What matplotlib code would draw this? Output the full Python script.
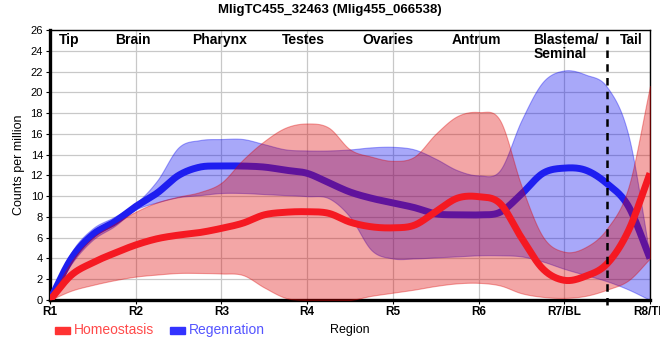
import numpy as np
import matplotlib
matplotlib.use('Agg')
import matplotlib.pyplot as plt
from matplotlib.patches import Rectangle

plt.rcParams['font.family'] = ['Liberation Sans', 'DejaVu Sans']

# Region ticks and body part labels
tick_labels = ['R1', 'R2', 'R3', 'R4', 'R5', 'R6', 'R7/BL', 'R8/TL']
part_labels = ['Tip', 'Brain', 'Pharynx', 'Testes', 'Ovaries', 'Antrum', 'Blastema/\nSeminal', 'Tail']
part_pos = [0.22, 0.97, 1.98, 2.96, 3.94, 4.98, 6.02, 6.78]

# positions along the body (R1 = 0 ... R8 = 7), sampled every quarter region
pos = np.arange(29) * 0.25

homeo_mean = [0, 2.4, 3.6, 4.5, 5.3, 5.9, 6.25, 6.5, 6.9, 7.4, 8.2, 8.45, 8.5, 8.35, 7.5, 7.05,
              6.95, 7.2, 8.5, 9.8, 9.95, 9.3, 6.0, 3.0, 1.9, 2.3, 3.5, 6.7, 12.2]
homeo_upper = [0, 3.7, 6.0, 7.3, 8.5, 9.4, 9.95, 10.4, 11.3, 13.5, 15.3, 16.6, 17.0, 16.6, 14.5, 13.8,
               13.4, 13.8, 16.0, 17.7, 18.1, 17.3, 11.0, 6.1, 4.65, 5.1, 6.9, 10.9, 20.6]
homeo_lower = [0, 0.9, 1.45, 1.9, 2.25, 2.45, 2.6, 2.6, 2.55, 2.4, 1.2, 0.2, 0, 0, 0, 0.4,
               0.7, 1.0, 1.35, 1.6, 1.65, 1.4, 0.65, 0.3, 0.2, 0.4, 1.0, 1.9, 4.0]

regen_mean = [0, 4.0, 6.3, 7.5, 9.0, 10.3, 12.0, 12.8, 12.9, 12.9, 12.8, 12.5, 12.2, 11.3, 10.4, 9.8,
              9.35, 8.9, 8.3, 8.2, 8.2, 8.45, 10.2, 12.2, 12.7, 12.5, 11.2, 9.0, 4.0]
regen_upper = [0, 4.6, 6.9, 8.0, 9.3, 11.5, 14.7, 15.4, 15.5, 15.5, 15.0, 14.5, 14.4, 14.4, 14.5, 14.7,
               14.75, 14.5, 13.6, 12.5, 12.0, 12.5, 17.3, 21.0, 22.1, 21.7, 20.5, 15.8, 4.2]
regen_lower = [0, 3.5, 5.8, 7.1, 8.7, 9.4, 9.9, 10.1, 10.3, 10.3, 10.2, 10.1, 10.0, 9.8, 8.0, 4.8,
               4.0, 4.0, 4.1, 4.2, 4.3, 4.3, 4.2, 3.7, 3.0, 2.4, 1.8, 1.0, 0]


def smooth(x, y, n=700):
    # cubic Hermite curve through the points, tangents from neighbours (Catmull-Rom)
    x = np.asarray(x, float)
    y = np.asarray(y, float)
    h = np.diff(x)
    m = np.gradient(y, x)
    xs = np.linspace(x[0], x[-1], n)
    k = np.clip(np.searchsorted(x, xs) - 1, 0, len(x) - 2)
    t = (xs - x[k]) / h[k]
    h00 = 2 * t**3 - 3 * t**2 + 1
    h10 = t**3 - 2 * t**2 + t
    h01 = -2 * t**3 + 3 * t**2
    h11 = t**3 - t**2
    ys = h00 * y[k] + h10 * h[k] * m[k] + h01 * y[k + 1] + h11 * h[k] * m[k + 1]
    return xs, np.clip(ys, 0, None)


fig = plt.figure(figsize=(6.6, 3.6), dpi=100)
ax = fig.add_axes([50 / 660, 60 / 360, 600 / 660, 270 / 360])

red = '#dd0000'
blue = '#0000f0'

xs, bu = smooth(pos, regen_upper)
_, bl = smooth(pos, regen_lower)
_, bm = smooth(pos, regen_mean)
_, hu = smooth(pos, homeo_upper)
_, hl = smooth(pos, homeo_lower)
_, hm = smooth(pos, homeo_mean)

ax.fill_between(xs, bl, bu, color=blue, alpha=0.34, lw=0.8, zorder=2)
ax.plot(xs, bm, color='#1e1ef0', lw=5, solid_capstyle='butt', zorder=3)
ax.fill_between(xs, hl, hu, color=red, alpha=0.35, lw=0.8, zorder=4)
ax.plot(xs, hm, color='#f51922', lw=5, solid_capstyle='butt', zorder=5)

ax.axvline(6.5, ymin=-0.02, color='black', lw=1.8, ls=(0, (3, 2.5)), zorder=6, clip_on=False)

ax.set_xlim(0, 7)
ax.set_ylim(0, 26)
ax.set_xticks(range(8))
ax.set_xticklabels(tick_labels, fontsize=8.5, fontweight='bold')
ax.set_yticks(range(0, 27, 2))
ax.tick_params(axis='y', labelsize=8, length=3, pad=2)
ax.tick_params(axis='x', length=3, pad=1)
ax.grid(True, color='#c8c8c8', lw=0.9, zorder=0)
ax.set_axisbelow(True)

for s in ['left', 'bottom']:
    ax.spines[s].set_linewidth(2.4)
for s in ['top', 'right']:
    ax.spines[s].set_linewidth(1.0)

for lab, p in zip(part_labels, part_pos):
    ax.text(p, 25.7, lab, ha='center', va='top', fontsize=10, fontweight='bold',
            multialignment='left', linespacing=1.0, zorder=7)

ax.set_ylabel('Counts per million', fontsize=9, labelpad=4)
ax.set_xlabel('Region', fontsize=9, labelpad=5)

fig.text(0.5, 0.99, 'MligTC455_32463 (Mlig455_066538)', ha='center', va='top',
         fontsize=9.5, fontweight='bold')

# legend at the bottom left
fig.patches.append(Rectangle((55 / 660, 1 - 334 / 360), 15 / 660, 7 / 360,
                             transform=fig.transFigure, color='#ff3333'))
fig.text(74 / 660, 1 - 330 / 360, 'Homeostasis', color='#ff4a4a', fontsize=10, va='center')
fig.patches.append(Rectangle((170 / 660, 1 - 334 / 360), 15 / 660, 7 / 360,
                             transform=fig.transFigure, color='#3333ff'))
fig.text(189 / 660, 1 - 330 / 360, 'Regenration', color='#5555ff', fontsize=10, va='center')

fig.savefig('out.png', dpi=100)
